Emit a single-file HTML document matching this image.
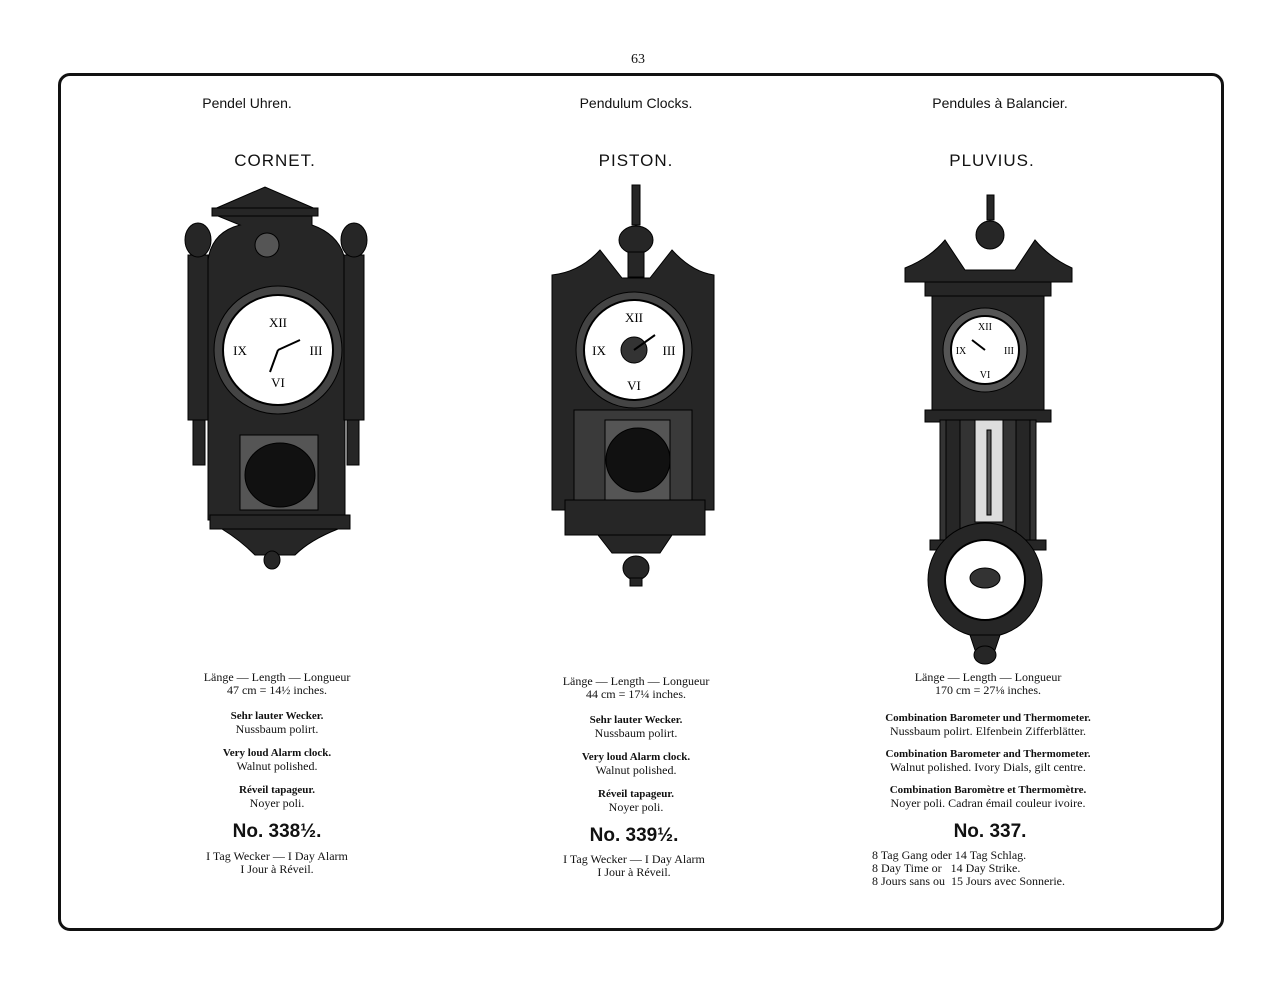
<!DOCTYPE html>
<html><head><meta charset="utf-8"><style>
body{margin:0;width:1280px;height:985px;background:#fff;position:relative;overflow:hidden;font-family:"Liberation Serif",serif;color:#111}
.a{position:absolute;white-space:nowrap;transform:translateX(-50%);text-align:center}
.h{font-family:"Liberation Sans",sans-serif;font-size:14px}
.t{font-family:"Liberation Sans",sans-serif;font-size:17px;letter-spacing:1px}
.s{font-size:12px;line-height:13px}
.b{font-size:11px;font-weight:bold;line-height:13px;font-family:"Liberation Serif",serif}
.n{font-family:"Liberation Sans",sans-serif;font-size:19px;font-weight:bold}
.frame{position:absolute;left:58px;top:73px;width:1160px;height:852px;border:3px solid #111;border-radius:12px}
</style></head><body>
<div class="a s" style="left:638px;top:53px;font-size:14px">63</div>
<div class="frame"></div>
<div class="a h" style="left:247px;top:95px">Pendel Uhren.</div>
<div class="a h" style="left:636px;top:95px">Pendulum Clocks.</div>
<div class="a h" style="left:1000px;top:95px">Pendules à Balancier.</div>
<div class="a t" style="left:275px;top:151px">CORNET.</div>
<div class="a t" style="left:636px;top:151px">PISTON.</div>
<div class="a t" style="left:992px;top:151px">PLUVIUS.</div>

<svg width="1280" height="985" style="position:absolute;left:0;top:0">
<g fill="#262626" stroke="#000">
<!-- Cornet -->
<polygon points="212,210 265,187 318,210"/>
<rect x="212" y="208" width="106" height="8"/>
<path d="M218,216 H312 V225 Q340,235 345,260 V520 H208 V260 Q212,232 240,225 Z"/>
<rect x="188" y="255" width="20" height="165"/><rect x="344" y="255" width="20" height="165"/>
<ellipse cx="198" cy="240" rx="13" ry="17"/><ellipse cx="354" cy="240" rx="13" ry="17"/>
<rect x="193" y="420" width="12" height="45"/><rect x="347" y="420" width="12" height="45"/>
<rect x="210" y="515" width="140" height="14"/>
<path d="M222,529 H338 Q310,540 295,555 H255 Q240,540 222,529Z"/>
<ellipse cx="272" cy="560" rx="8" ry="9"/>
<rect x="240" y="435" width="78" height="75" fill="#555"/>
<ellipse cx="280" cy="475" rx="35" ry="32" fill="#111"/>
<circle cx="278" cy="350" r="64" fill="#444"/>
<circle cx="278" cy="350" r="55" fill="#fff" stroke="#000" stroke-width="2"/>
<circle cx="267" cy="245" r="12" fill="#555"/>
<!-- Piston -->
<rect x="632" y="185" width="8" height="40"/><ellipse cx="636" cy="240" rx="17" ry="14"/>
<rect x="628" y="252" width="16" height="25"/>
<path d="M552,275 Q580,272 600,250 L622,278 H650 L672,250 Q692,272 714,275 V510 H552Z"/>
<rect x="574" y="410" width="118" height="95" fill="#3a3a3a"/>
<rect x="605" y="420" width="65" height="80" fill="#555"/>
<circle cx="638" cy="460" r="32" fill="#111"/>
<rect x="565" y="500" width="140" height="35"/>
<path d="M598,535 H672 L660,553 H612Z"/>
<ellipse cx="636" cy="568" rx="13" ry="12"/><rect x="630" y="578" width="12" height="8"/>
<circle cx="634" cy="350" r="58" fill="#444"/>
<circle cx="634" cy="350" r="50" fill="#fff" stroke="#000" stroke-width="2"/>
<circle cx="634" cy="350" r="13" fill="#333"/>
<!-- Pluvius -->
<rect x="987" y="195" width="7" height="25"/><ellipse cx="990" cy="235" rx="14" ry="14"/>
<path d="M905,268 Q930,258 945,240 L965,270 H1015 L1035,240 Q1050,258 1072,268 V282 H905Z"/>
<rect x="925" y="282" width="126" height="14"/>
<rect x="932" y="296" width="112" height="115"/>
<rect x="925" y="410" width="126" height="12"/>
<rect x="940" y="420" width="96" height="130" fill="#333"/>
<rect x="946" y="420" width="14" height="125"/><rect x="1016" y="420" width="14" height="125"/>
<rect x="975" y="420" width="28" height="102" fill="#ddd"/>
<rect x="987" y="430" width="4" height="85" fill="#555"/>
<rect x="930" y="540" width="116" height="10"/>
<circle cx="985" cy="580" r="57"/>
<circle cx="985" cy="580" r="40" fill="#fff" stroke="#000" stroke-width="2"/>
<ellipse cx="985" cy="578" rx="15" ry="10" fill="#333"/>
<path d="M970,635 H1000 L995,650 H975Z"/><ellipse cx="985" cy="655" rx="11" ry="9"/>
<circle cx="985" cy="350" r="42" fill="#555"/>
<circle cx="985" cy="350" r="34" fill="#fff" stroke="#000" stroke-width="2"/>
</g>
<g font-family="Liberation Serif" font-size="13" text-anchor="middle" fill="#000">
<text x="278" y="327">XII</text><text x="278" y="387">VI</text><text x="240" y="355">IX</text><text x="316" y="355">III</text>
<text x="634" y="322">XII</text><text x="634" y="390">VI</text><text x="599" y="355">IX</text><text x="669" y="355">III</text>
<text x="985" y="330" font-size="10">XII</text><text x="985" y="378" font-size="10">VI</text><text x="961" y="354" font-size="10">IX</text><text x="1009" y="354" font-size="10">III</text>
</g>
<g stroke="#000" stroke-width="2"><line x1="278" y1="350" x2="300" y2="340"/><line x1="278" y1="350" x2="270" y2="372"/>
<line x1="634" y1="350" x2="655" y2="335"/><line x1="985" y1="350" x2="972" y2="340"/></g>
</svg>

<div class="a s" style="left:277px;top:671px">Länge — Length — Longueur<br>47 cm = 14½ inches.</div>
<div class="a" style="left:277px;top:710px"><div class="b">Sehr lauter Wecker.</div><div class="s">Nussbaum polirt.</div></div>
<div class="a" style="left:277px;top:747px"><div class="b">Very loud Alarm clock.</div><div class="s">Walnut polished.</div></div>
<div class="a" style="left:277px;top:784px"><div class="b">Réveil tapageur.</div><div class="s">Noyer poli.</div></div>
<div class="a n" style="left:277px;top:821px">No. 338½.</div>
<div class="a s" style="left:277px;top:850px">I Tag Wecker — I Day Alarm<br>I Jour à Réveil.</div>

<div class="a s" style="left:636px;top:675px">Länge — Length — Longueur<br>44 cm = 17¼ inches.</div>
<div class="a" style="left:636px;top:714px"><div class="b">Sehr lauter Wecker.</div><div class="s">Nussbaum polirt.</div></div>
<div class="a" style="left:636px;top:751px"><div class="b">Very loud Alarm clock.</div><div class="s">Walnut polished.</div></div>
<div class="a" style="left:636px;top:788px"><div class="b">Réveil tapageur.</div><div class="s">Noyer poli.</div></div>
<div class="a n" style="left:634px;top:825px">No. 339½.</div>
<div class="a s" style="left:634px;top:853px">I Tag Wecker — I Day Alarm<br>I Jour à Réveil.</div>

<div class="a s" style="left:988px;top:671px">Länge — Length — Longueur<br>170 cm = 27⅛ inches.</div>
<div class="a" style="left:988px;top:712px"><div class="b">Combination Barometer und Thermometer.</div><div class="s">Nussbaum polirt. Elfenbein Zifferblätter.</div></div>
<div class="a" style="left:988px;top:748px"><div class="b">Combination Barometer and Thermometer.</div><div class="s">Walnut polished. Ivory Dials, gilt centre.</div></div>
<div class="a" style="left:988px;top:784px"><div class="b">Combination Baromètre et Thermomètre.</div><div class="s">Noyer poli. Cadran émail couleur ivoire.</div></div>
<div class="a n" style="left:990px;top:821px">No. 337.</div>
<div class="s" style="position:absolute;left:872px;top:849px;white-space:nowrap">8 Tag Gang oder 14 Tag Schlag.<br>8 Day Time or &nbsp;&nbsp;14 Day Strike.<br>8 Jours sans ou &nbsp;15 Jours avec Sonnerie.</div>
</body></html>
